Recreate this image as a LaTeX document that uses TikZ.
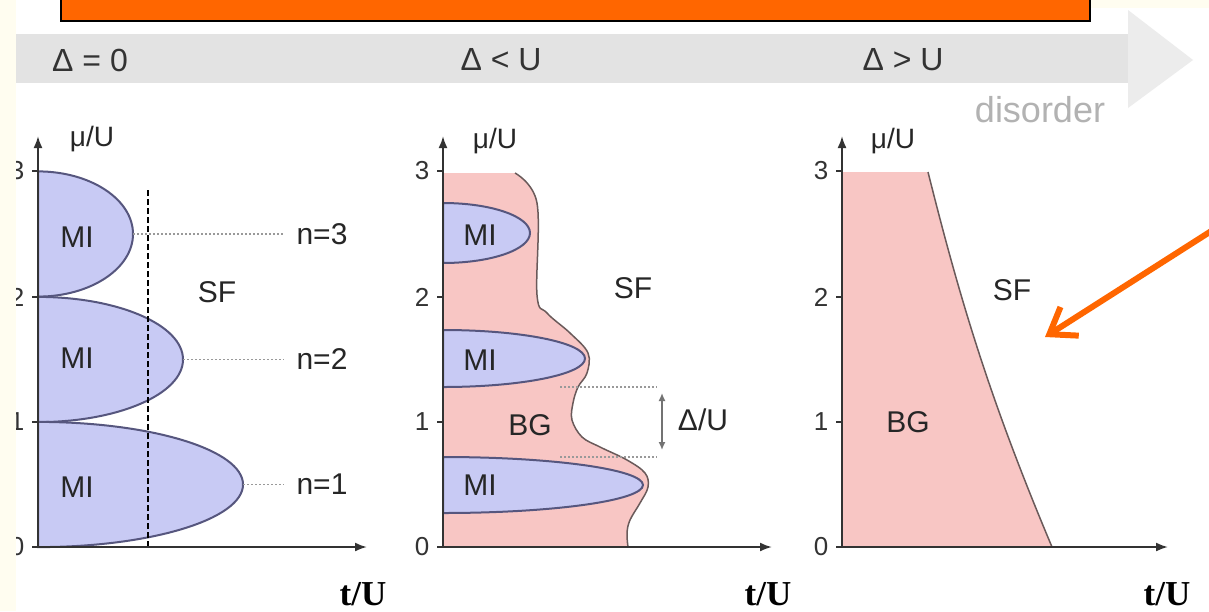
\documentclass[tikz,border=0pt]{standalone}
\usepackage{fontspec}
\setmainfont{Liberation Sans}
\newfontfamily\timesfont{Liberation Serif}
\usetikzlibrary{arrows.meta,positioning,calc}

\definecolor{lobefill}{HTML}{C8CAF4}
\definecolor{lobeedge}{HTML}{56567E}
\definecolor{bgpink}{HTML}{F8C6C4}
\definecolor{bgedge}{HTML}{6A5A5A}
\definecolor{cream}{HTML}{FFFDF0}
\definecolor{bandgray}{HTML}{E3E3E3}
\definecolor{headgray}{HTML}{ECECEC}
\definecolor{orng}{HTML}{FF6600}

% half ellipse on the axis: centre x, centre y, width, half height
\newcommand\lobe[4]{({#1},{#2-#4}) .. controls ({#1+0.5523*#3},{#2-#4}) and ({#1+#3},{#2-0.5523*#4}) .. ({#1+#3},{#2})
  .. controls ({#1+#3},{#2+0.5523*#4}) and ({#1+0.5523*#3},{#2+#4}) .. ({#1},{#2+#4})}

\begin{document}
\begin{tikzpicture}[
    x=1pt, y=-1pt,
    lbl/.style={inner sep=0pt, font=\fontsize{30}{32}\selectfont, text=black!85},
    ticklbl/.style={inner sep=0pt, font=\fontsize{26}{28}\selectfont, text=black!80},
    bandlbl/.style={inner sep=0pt, font=\fontsize{32}{34}\selectfont, text=black!80},
    tu/.style={inner sep=0pt, font={\timesfont\bfseries\fontsize{35}{38}\selectfont}},
    axis/.style={draw=black!80, line width=2pt},
    lobe/.style={fill=lobefill, draw=lobeedge, line width=2pt},
    nline/.style={draw=black!40, line width=1.5pt, dash pattern=on 2pt off 2pt},
    vdash/.style={draw=black, line width=2.5pt, dash pattern=on 6pt off 3pt}
]
    \useasboundingbox (0,0) rectangle (1209,611);
    \fill[white] (0,0) rectangle (1209,611);
    \fill[cream] (1090,0) rectangle (1209,8);
    \draw[fill=orng, line width=2pt] (61,-5) rectangle (1090,21);

    \fill[bandgray] (16,34) rectangle (1128,83);
    \fill[headgray] (1128,10) -- (1193,60) -- (1128,108) -- cycle;
    \node[bandlbl] (dzero) at (90,60) {Δ = 0};
    \node[bandlbl] (dless) at (501,60) {Δ < U};
    \node[bandlbl] (dmore) at (903,60) {Δ > U};
    \node[inner sep=0pt, font=\fontsize{36}{38}\selectfont, text=black!30] (disorder) at (1040,110) {disorder};

    % Delta = 0
    \foreach \cy/\w in {234/95, 359.5/145, 484.5/205}
        \filldraw[lobe] \lobe{38}{\cy}{\w}{62.6} -- cycle;
    \coordinate (dtop) at (148,190);
    \coordinate (dbot) at (148,547);
    \draw[vdash] (dbot) -- (dtop);
    \foreach \n/\yy/\xx in {3/234/133, 2/359.5/183, 1/484.5/243} {
        \node[lbl] (n\n) at (322,\yy) {n=\n};
        \coordinate (tip\n) at (\xx,\yy);
        \draw[nline, shorten >=12pt] (tip\n) -- (n\n.west);
    }
    \foreach \yy [count=\i] in {237,358,487}
        \node[lbl] (mia\i) at (77,\yy) {MI};
    \node[lbl] (sfa) at (217,292) {SF};

    % Delta < U
    \fill[bgpink] (443,173) -- plot[smooth, tension=0.6] coordinates {(515,173) (537,203) (537,295) (547,313) (570,333) (588,353) (587,373) (578,387) (573,403) (572,420) (582,437) (600,447) (627,460) (645,473) (648,487) (640,503) (630,520) (627,533) (628,547)} -- (443,547) -- cycle;
    \draw[bgedge, line width=1.5pt] plot[smooth, tension=0.6] coordinates {(515,173) (537,203) (537,295) (547,313) (570,333) (588,353) (587,373) (578,387) (573,403) (572,420) (582,437) (600,447) (627,460) (645,473) (648,487) (640,503) (630,520) (627,533) (628,547)};
    \foreach \cy/\w/\h in {233/87/30, 358.5/142/28.5, 485/200/28}
        \filldraw[lobe] \lobe{443}{\cy}{\w}{\h} -- cycle;
    \foreach \yy [count=\i] in {235,360,485}
        \node[lbl] (mib\i) at (480,\yy) {MI};
    \node[lbl] (bgb) at (530,425) {BG};
    \node[lbl] (sfb) at (633,288) {SF};
    \coordinate (gapa) at (560,387);
    \coordinate (gapb) at (560,457);
    \draw[nline] (gapa) -- ++(97,0);
    \draw[nline] (gapb) -- ++(97,0);
    \node[lbl] (gap) at (703,420) {Δ/U};
    \coordinate (gtop) at (662,393);
    \coordinate (gbot) at (662,450);
    \draw[draw=black!55, line width=1.5pt, {Latex[length=8pt,width=7pt]}-{Latex[length=8pt,width=7pt]}] (gtop) -- (gbot);

    % Delta > U
    \fill[bgpink] (842,172) -- (928,172) .. controls (960,300) and (990,400) .. (1052,547) -- (842,547) -- cycle;
    \draw[bgedge, line width=1.5pt] (928,172) .. controls (960,300) and (990,400) .. (1052,547);
    \node[lbl] (bgc) at (908,422) {BG};
    \node[lbl] (sfc) at (1012,290) {SF};

    % axes
    \foreach \p/\ox/\xe in {a/38/367, b/443/772, c/842/1168} {
        \coordinate (o\p) at (\ox,547);
        \coordinate (y\p) at (\ox,136);
        \coordinate (x\p) at (\xe,547);
        \draw[axis, -{Latex[length=12pt,width=9pt]}] (o\p) -- (y\p);
        \draw[axis, -{Latex[length=12pt,width=9pt]}] (o\p) -- (x\p);
        \foreach \k/\yy in {0/547, 1/422, 2/297, 3/171} {
            \draw[axis, line width=1.5pt] (\ox-6,\yy) -- (o\p |- 0,\yy);
            \node[ticklbl] (t\p\k) at (\ox-21,\yy) {\k};
        }
    }
    \node[lbl, font=\fontsize{28}{30}\selectfont] (mua) at (92,139) {μ/U};
    \node[lbl, font=\fontsize{28}{30}\selectfont] (mub) at (495,141) {μ/U};
    \node[lbl, font=\fontsize{28}{30}\selectfont] (muc) at (893,141) {μ/U};
    \node[tu] (tua) at (363,594) {t/U};
    \node[tu] (tub) at (768,594) {t/U};
    \node[tu] (tuc) at (1167,594) {t/U};

    \fill[cream] (0,0) rectangle (16,611);

    \coordinate (otail) at (1216,228);
    \coordinate (otip) at (1045,337);
    \draw[orng, line width=6pt, -{Straight Barb[length=24pt,width=34pt]}] (otail) -- (otip);
\end{tikzpicture}
\end{document}
